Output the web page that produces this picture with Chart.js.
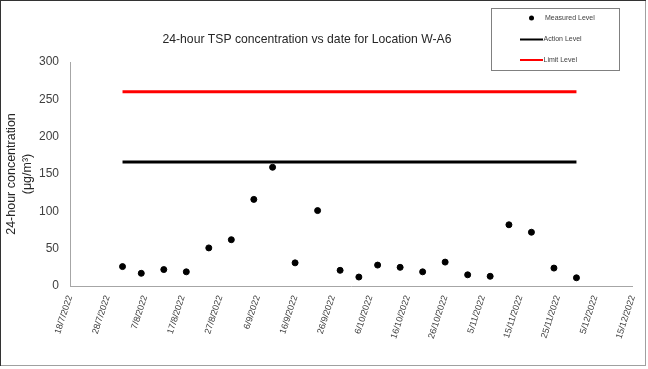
<!DOCTYPE html>
<html>
<head>
<meta charset="utf-8">
<script src="https://cdn.jsdelivr.net/npm/chart.js@4/dist/chart.umd.min.js"></script>
<style>
  html, body { margin: 0; padding: 0; background: #fff; }
  #wrap { width: 648px; height: 369px; }
</style>
</head>
<body>
<div id="wrap"><canvas id="myChart" width="648" height="369"></canvas></div>
<script>
// sampling dates (d/m/yyyy) and measured 24-hour TSP levels
var sampleDates = ['1/8/2022', '6/8/2022', '12/8/2022', '18/8/2022', '24/8/2022', '30/8/2022',
  '5/9/2022', '10/9/2022', '16/9/2022', '22/9/2022', '28/9/2022', '3/10/2022', '8/10/2022',
  '14/10/2022', '20/10/2022', '26/10/2022', '1/11/2022', '7/11/2022', '12/11/2022',
  '18/11/2022', '24/11/2022', '30/11/2022'];
var measuredLevel = [26, 17, 22, 19, 51, 62, 116, 159, 31, 101, 21, 12, 28, 25, 19, 32, 15, 13, 82, 72, 24, 11];
var actionLevel = 166;
var limitLevel = 260;

// x axis runs 18/7/2022 .. 15/12/2022 every 10 days
var axisStart = '18/7/2022';
var axisDays = 150;
var tickStepDays = 10;
var yTicks = [0, 50, 100, 150, 200, 250, 300];

var chartTitle = '24-hour TSP concentration vs date for Location W-A6';

function toUtc(s) {
  var p = s.split('/');
  return Date.UTC(+p[2], +p[1] - 1, +p[0]);
}
var startMs = toUtc(axisStart);
function dayNum(s) {
  return Math.round((toUtc(s) - startMs) / 86400000);
}
function dayLabel(n) {
  var d = new Date(startMs + n * 86400000);
  return d.getUTCDate() + '/' + (d.getUTCMonth() + 1) + '/' + d.getUTCFullYear();
}

var firstDay = dayNum(sampleDates[0]);
var lastDay = dayNum(sampleDates[sampleDates.length - 1]);

var measuredPoints = sampleDates.map(function (d, i) { return { x: dayNum(d), y: measuredLevel[i] }; });

var textColor = '#404040';
var axisColor = '#a6a6a6';
var fontFam = '"Liberation Sans", Arial, sans-serif';

// title, legend box in the upper right, and the outer frame
var boxLegend = {
  id: 'boxLegend',
  afterDraw: function (chart) {
    var c = chart.ctx;
    c.save();
    // frame
    c.strokeStyle = '#a0a0a0';
    c.lineWidth = 1;
    c.strokeRect(0.5, 0.5, 645, 365);
    c.strokeStyle = '#333';
    c.beginPath();
    c.moveTo(0, 0.5); c.lineTo(646, 0.5);
    c.moveTo(0.5, 0); c.lineTo(0.5, 366);
    c.stroke();

    // title
    c.font = '12.2px ' + fontFam;
    c.fillStyle = '#262626';
    c.textAlign = 'center';
    c.textBaseline = 'middle';
    c.fillText(chartTitle, 307, 40);

    // legend box
    c.textAlign = 'left';
    c.strokeStyle = '#808080';
    c.strokeRect(491.5, 8.5, 128, 62);
    c.font = '7px ' + fontFam;
    c.fillStyle = textColor;
    var ds = chart.data.datasets;
    var rows = [18, 39.5, 60];
    ds.forEach(function (d, i) {
      var y = rows[i];
      if (d.showLine === false) {
        c.fillStyle = d.backgroundColor;
        c.beginPath();
        c.arc(531.5, y, 2.5, 0, Math.PI * 2);
        c.fill();
        c.fillStyle = textColor;
        c.fillText(d.label, 545, y);
      } else {
        c.strokeStyle = d.borderColor;
        c.lineWidth = 2;
        c.beginPath();
        c.moveTo(520, y); c.lineTo(543, y);
        c.stroke();
        c.fillStyle = textColor;
        c.fillText(d.label, 543.5, y);
      }
    });
    c.restore();
  }
};

var ctx = document.getElementById('myChart');
var chart = new Chart(ctx, {
  type: 'scatter',
  data: {
    datasets: [
      {
        label: 'Measured Level',
        data: measuredPoints,
        showLine: false,
        backgroundColor: '#000',
        borderColor: '#000',
        pointRadius: 3,
        pointHoverRadius: 3
      },
      {
        label: 'Action Level',
        data: [{ x: firstDay, y: actionLevel }, { x: lastDay, y: actionLevel }],
        showLine: true,
        borderColor: '#000',
        backgroundColor: '#000',
        borderWidth: 3,
        pointRadius: 0
      },
      {
        label: 'Limit Level',
        data: [{ x: firstDay, y: limitLevel }, { x: lastDay, y: limitLevel }],
        showLine: true,
        borderColor: '#ff0000',
        backgroundColor: '#ff0000',
        borderWidth: 3,
        pointRadius: 0
      }
    ]
  },
  options: {
    responsive: false,
    animation: false,
    layout: { padding: { left: 0, right: 13, top: 62, bottom: 0 } },
    plugins: {
      legend: { display: false },
      tooltip: { enabled: false },
      title: { display: false }
    },
    scales: {
      x: {
        type: 'linear',
        min: 0,
        max: axisDays,
        grid: { display: false, drawTicks: true, tickLength: 3, color: axisColor },
        border: { color: axisColor, width: 1 },
        ticks: {
          stepSize: tickStepDays,
          minRotation: 72,
          maxRotation: 72,
          autoSkip: false,
          color: textColor,
          padding: 5,
          font: { family: fontFam, size: 9 },
          callback: function (v) { return dayLabel(v); }
        },
        afterFit: function (scale) { scale.height = 83; }
      },
      y: {
        min: 0,
        max: 300,
        grid: { display: false, drawTicks: true, tickLength: 3, color: axisColor },
        border: { color: axisColor, width: 1 },
        afterBuildTicks: function (scale) {
          scale.ticks = yTicks.map(function (v) { return { value: v }; });
        },
        ticks: {
          color: textColor,
          padding: 8,
          font: { family: fontFam, size: 12 }
        },
        title: {
          display: true,
          text: ['24-hour concentration', '(μg/m³)'],
          color: '#262626',
          font: { family: fontFam, size: 12.5, lineHeight: 1.25 },
          padding: { top: 4, bottom: 2 }
        },
        afterFit: function (scale) { scale.width = 70; }
      }
    }
  },
  plugins: [boxLegend]
});
</script>
</body>
</html>
